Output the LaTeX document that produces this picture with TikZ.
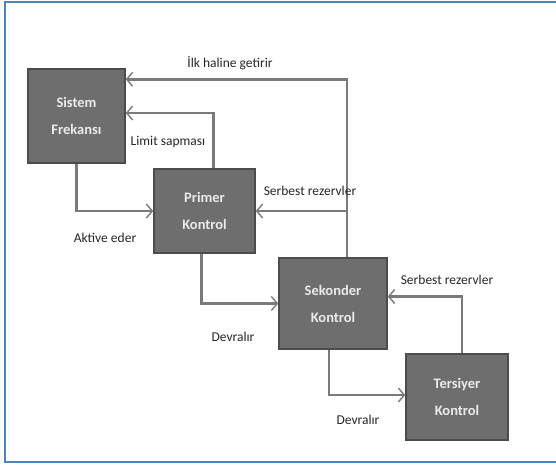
\documentclass[tikz,border=0pt]{standalone}
\usepackage{fontspec}
\setmainfont{Carlito}
\usepackage{tikz}
\usetikzlibrary{positioning, calc, arrows.meta}
\definecolor{xframe}{HTML}{4F81BD}
\definecolor{xbox}{HTML}{6E6E6E}
\definecolor{xline}{HTML}{7A7A7A}
\tikzset{
	arrow/.style={line width=2.8pt, draw=xline, -{Straight Barb[length=6pt,width=14pt,line width=1.4pt]}},
	block/.style={draw=black!70, line width=1.5pt, fill=xbox, text=white!92!black, align=center,
		font=\fontsize{14.5}{27}\selectfont\bfseries, inner sep=0pt},
	lbl/.style={text=black!85, font=\fontsize{13.5}{15}\selectfont},
}

\begin{document}
\begin{tikzpicture}[x=1pt, y=-1pt]
			\useasboundingbox (0,0) rectangle (556,464);
			\draw[xframe, line width=2pt] (556,2) -- (4.5,2) -- (4.5,462) -- (556,462);

			\node[block, minimum width=97pt, minimum height=94pt] (sistem) at (76.5,116) {Sistem\\Frekansı};
			\node[block, minimum width=101pt, minimum height=84pt] (primer) at (204.5,211) {Primer\\Kontrol};
			\node[block, minimum width=108pt, minimum height=91pt] (sekonder) at (333,303.5) {Sekonder\\Kontrol};
			\node[block, minimum width=102pt, minimum height=86pt] (tersiyer) at (457,397) {Tersiyer\\Kontrol};

			\coordinate (ret) at ([xshift=14pt]sekonder.north);

			\draw[arrow] (ret) |- ([yshift=-11pt]sistem.north east);
			\draw[arrow] ([xshift=9pt]primer.north) |- ([yshift=3pt]sistem.east);
			\draw[arrow] (sistem.south) |- (primer.west);
			\draw[arrow] (primer.east -| ret) -- (primer.east);
			\draw[arrow] ([xshift=-3pt]primer.south) |- (sekonder.west);
			\draw[arrow] ([xshift=-4pt]sekonder.south) |- ([yshift=2pt]tersiyer.west);
			\draw[arrow] ([xshift=5pt]tersiyer.north) |- ([yshift=7pt]sekonder.east);

			\node[lbl] (l1) at (230,63) {İlk haline getirir};
			\node[lbl] (l2) at (168,142) {Limit sapması};
			\node[lbl] (l3) at (105,238) {Aktive eder};
			\node[lbl] (l4) at (310,191) {Serbest rezervler};
			\node[lbl] (l5) at (233,337) {Devralır};
			\node[lbl] (l6) at (358,420) {Devralır};
			\node[lbl] (l7) at (447,280) {Serbest rezervler};
		\end{tikzpicture}
\end{document}
